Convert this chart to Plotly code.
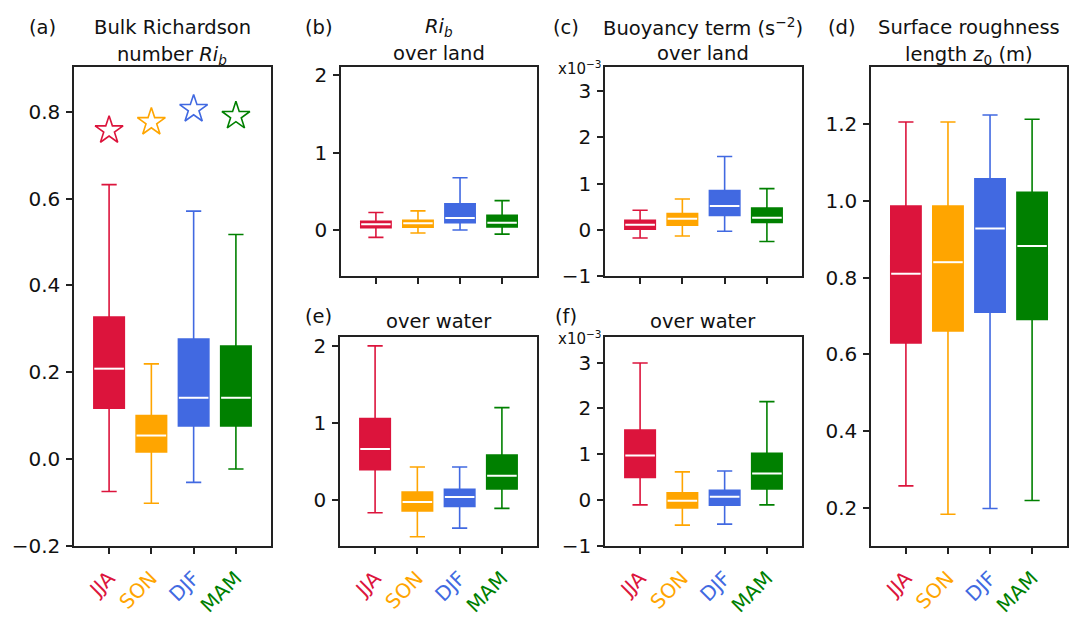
import plotly.graph_objects as go

# ---------------- data ----------------
seasons = ["JJA", "SON", "DJF", "MAM"]
colors = ["#DC143C", "#FFA500", "#4169E1", "#008000"]
positions = [1, 2, 3, 4]

# (a) Bulk Richardson number
a_low = [-0.075, -0.102, -0.054, -0.023]
a_q1 = [0.117, 0.016, 0.076, 0.076]
a_med = [0.208, 0.054, 0.141, 0.141]
a_q3 = [0.327, 0.100, 0.276, 0.260]
a_high = [0.632, 0.219, 0.571, 0.517]
a_star = [0.757, 0.776, 0.806, 0.790]

# (b) Ri_b over land
b_low = [-0.096, -0.040, 0.000, -0.054]
b_q1 = [0.030, 0.035, 0.092, 0.040]
b_med = [0.075, 0.085, 0.154, 0.092]
b_q3 = [0.112, 0.125, 0.338, 0.188]
b_high = [0.225, 0.246, 0.675, 0.379]

# (c) Buoyancy term over land (x1e-3)
c_low = [-0.174, -0.132, -0.028, -0.250]
c_q1 = [0.014, 0.104, 0.310, 0.160]
c_med = [0.111, 0.243, 0.514, 0.264]
c_q3 = [0.208, 0.354, 0.847, 0.472]
c_high = [0.424, 0.667, 1.583, 0.889]

# (d) Surface roughness length
d_low = [0.258, 0.184, 0.199, 0.220]
d_q1 = [0.630, 0.661, 0.710, 0.691]
d_med = [0.810, 0.840, 0.928, 0.882]
d_q3 = [0.986, 0.986, 1.057, 1.022]
d_high = [1.205, 1.205, 1.223, 1.212]

# (e) Ri_b over water
e_low = [-0.170, -0.483, -0.370, -0.113]
e_q1 = [0.390, -0.147, -0.088, 0.139]
e_med = [0.660, -0.030, 0.034, 0.310]
e_q3 = [1.055, 0.100, 0.134, 0.580]
e_high = [2.000, 0.424, 0.424, 1.197]

# (f) Buoyancy term over water (x1e-3)
f_low = [-0.106, -0.549, -0.528, -0.106]
f_q1 = [0.493, -0.176, -0.113, 0.239]
f_med = [0.972, -0.014, 0.070, 0.577]
f_q3 = [1.528, 0.155, 0.211, 1.021]
f_high = [2.990, 0.613, 0.634, 2.148]

a_yticks = [-0.2, 0.0, 0.2, 0.4, 0.6, 0.8]
b_yticks = [0, 1, 2]
c_yticks = [-1, 0, 1, 2, 3]
d_yticks = [0.2, 0.4, 0.6, 0.8, 1.0, 1.2]

# ---------------- layout helpers ----------------
W, H = 1075, 617
FONT = "DejaVu Sans"
AX = "#222222"
BOXW = 0.72
TICKSIZE = 20

panels = [
    dict(px=(74, 271), py=(65, 559), yr=[-0.2, 0.903], ticks=a_yticks, fmt=".1f",
         stats=(a_low, a_q1, a_med, a_q3, a_high), xlab=True),
    dict(px=(341, 537), py=(65.5, 281), yr=[-0.6, 2.1], ticks=b_yticks, fmt="d",
         stats=(b_low, b_q1, b_med, b_q3, b_high), xlab=False),
    dict(px=(605, 802), py=(65.5, 281), yr=[-1, 3.5], ticks=c_yticks, fmt="d",
         stats=(c_low, c_q1, c_med, c_q3, c_high), xlab=False),
    dict(px=(871, 1067), py=(65, 559), yr=[0.102, 1.348], ticks=d_yticks, fmt=".1f",
         stats=(d_low, d_q1, d_med, d_q3, d_high), xlab=True),
    dict(px=(340, 537), py=(344, 559), yr=[-0.6, 2.11], ticks=b_yticks, fmt="d",
         stats=(e_low, e_q1, e_med, e_q3, e_high), xlab=True),
    dict(px=(605, 802), py=(344, 559), yr=[-1, 3.55], ticks=c_yticks, fmt="d",
         stats=(f_low, f_q1, f_med, f_q3, f_high), xlab=True),
]

fig = go.Figure()
ticktext = [f'<span style="color:{c}">{s}</span>' for s, c in zip(seasons, colors)]

for i, p in enumerate(panels):
    n = "" if i == 0 else str(i + 1)
    xa, ya = "x" + n, "y" + n
    low, q1, med, q3, high = p["stats"]
    for k in range(4):
        fig.add_trace(go.Box(
            x=[positions[k]], q1=[q1[k]], median=[med[k]], q3=[q3[k]],
            lowerfence=[low[k]], upperfence=[high[k]],
            width=BOXW, whiskerwidth=0.5, boxpoints=False,
            fillcolor=colors[k], line=dict(color=colors[k], width=1.6),
            xaxis=xa, yaxis=ya, hoverinfo="skip", showlegend=False))
        fig.add_trace(go.Scatter(
            x=[positions[k] - BOXW / 2 + 0.01, positions[k] + BOXW / 2 - 0.01],
            y=[med[k], med[k]], mode="lines",
            line=dict(color="white", width=2), xaxis=xa, yaxis=ya,
            hoverinfo="skip", showlegend=False))
    if i == 0:
        fig.add_trace(go.Scatter(
            x=positions, y=a_star, mode="markers",
            marker=dict(symbol="star-open", size=21, color=colors,
                        line=dict(width=1.6, color=colors)),
            xaxis=xa, yaxis=ya, hoverinfo="skip", showlegend=False))

    axis_common = dict(showgrid=False, zeroline=False, showline=True, mirror=True,
                       linecolor=AX, linewidth=1.5, ticks="outside", ticklen=6,
                       tickwidth=1.5, tickcolor=AX,
                       tickfont=dict(family=FONT, size=TICKSIZE, color="#111"))
    fig.update_layout(**{
        ("xaxis" + n): dict(domain=[p["px"][0] / W, p["px"][1] / W], anchor=ya,
                            range=[0.17, 4.83], tickmode="array", tickvals=positions,
                            ticktext=ticktext, tickangle=-45,
                            showticklabels=p["xlab"], ticklabelstandoff=5,
                            **axis_common),
        ("yaxis" + n): dict(domain=[1 - p["py"][1] / H, 1 - p["py"][0] / H], anchor=xa,
                            range=p["yr"], tickmode="array", tickvals=p["ticks"],
                            tickformat=p["fmt"], ticklabelstandoff=2, **axis_common),
    })

# ---------------- text ----------------
def txt(x, y, s, size=19.5):
    fig.add_annotation(x=x / W, y=1 - y / H, xref="paper", yref="paper", text=s,
                       showarrow=False, xanchor="center", yanchor="middle",
                       font=dict(family=FONT, size=size, color="#111"))

txt(42, 24, "(a)")
txt(172, 24, "Bulk Richardson")
txt(172, 53, "number <i>Ri</i><sub><i>b</i></sub>")
txt(319, 24, "(b)")
txt(439, 24, "<i>Ri</i><sub><i>b</i></sub>")
txt(439, 51, "over land")
txt(566, 24, "(c)")
txt(703, 24, "Buoyancy term (s<sup>−2</sup>)")
txt(703, 51, "over land")
txt(842, 24, "(d)")
txt(969, 24, "Surface roughness")
txt(969, 53, "length <i>z</i><sub>0</sub> (m)")
txt(318, 322, "(e)")
txt(439, 328, "over water")
txt(566, 322, "(f)")
txt(703, 328, "over water")
txt(579, 66, "x10<sup>−3</sup>", size=15)
txt(579, 345, "x10<sup>−3</sup>", size=15)

fig.update_layout(width=W, height=H, margin=dict(l=0, r=0, t=0, b=0),
                  plot_bgcolor="white", paper_bgcolor="white", showlegend=False)

fig.write_html("out.html")
